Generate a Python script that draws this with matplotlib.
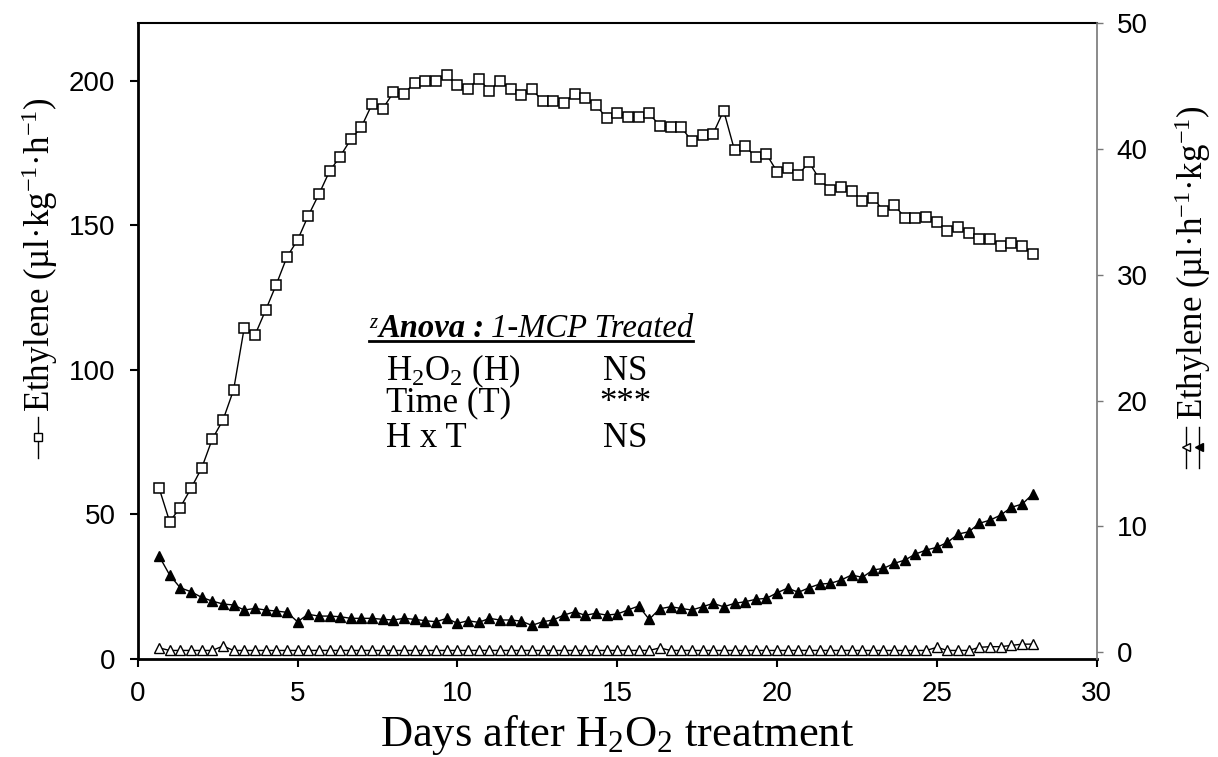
import numpy as np
import matplotlib
matplotlib.use("Agg")
import matplotlib.pyplot as plt
from matplotlib.lines import Line2D

plt.rcParams['font.family'] = ['Liberation Sans', 'DejaVu Sans']
plt.rcParams['mathtext.fontset'] = 'custom'
plt.rcParams['mathtext.rm'] = 'Liberation Serif'
plt.rcParams['mathtext.it'] = 'Liberation Serif:italic'
plt.rcParams['mathtext.bf'] = 'Liberation Serif:bold'

# sampled every 8 h, from day 0.67 to day 28
days = np.round(np.arange(2, 85) / 3, 2)

# left axis (square markers)
ethylene_sq = [
    59.1, 47.5, 52.4, 59.1, 66.0, 76.0, 82.7, 93.1, 114.4, 112.1,
    120.6, 129.4, 139.1, 144.9, 153.2, 160.8, 168.7, 173.8, 179.8, 184.1,
    191.9, 190.4, 196.0, 195.6, 199.3, 200.1, 200.0, 202.0, 198.5, 197.1,
    200.8, 196.5, 200.0, 197.1, 195.2, 197.0, 193.1, 193.1, 192.4, 195.6,
    194.2, 191.7, 187.1, 188.7, 187.5, 187.5, 188.7, 184.5, 184.1, 184.0,
    179.2, 181.1, 181.7, 189.7, 176.0, 177.6, 173.5, 174.6, 168.6, 169.8,
    167.5, 171.9, 165.9, 162.4, 163.1, 161.9, 158.5, 159.6, 155.0, 157.0,
    152.7, 152.5, 153.0, 151.0, 148.1, 149.5, 147.4, 145.2, 145.4, 143.0,
    143.8, 142.8, 140.0,
]

# right axis (filled triangles)
ethylene_tri_filled = [
    7.65, 6.14, 5.13, 4.81, 4.37, 4.07, 3.84, 3.76, 3.36, 3.49,
    3.36, 3.28, 3.18, 2.43, 3.02, 2.88, 2.88, 2.83, 2.70, 2.70,
    2.70, 2.62, 2.57, 2.70, 2.62, 2.51, 2.43, 2.70, 2.30, 2.51,
    2.38, 2.70, 2.57, 2.57, 2.48, 2.14, 2.43, 2.57, 2.96, 3.22,
    2.94, 3.10, 2.96, 3.04, 3.36, 3.68, 2.62, 3.46, 3.62, 3.49,
    3.36, 3.62, 3.89, 3.62, 3.89, 4.02, 4.21, 4.29, 4.73, 5.10,
    4.77, 5.13, 5.42, 5.48, 5.74, 6.14, 5.96, 6.54, 6.67, 7.07,
    7.33, 7.81, 8.13, 8.34, 8.74, 9.40, 9.58, 10.25, 10.51, 10.91,
    11.52, 11.78, 12.57,
]

# right axis (open triangles)
ethylene_tri_open = [
    0.35, 0.15, 0.15, 0.15, 0.15, 0.15, 0.50, 0.15, 0.15, 0.15,
    0.15, 0.15, 0.15, 0.15, 0.15, 0.15, 0.15, 0.15, 0.15, 0.15,
    0.15, 0.15, 0.15, 0.15, 0.15, 0.15, 0.15, 0.15, 0.15, 0.15,
    0.15, 0.15, 0.15, 0.15, 0.15, 0.15, 0.15, 0.15, 0.15, 0.15,
    0.15, 0.15, 0.15, 0.15, 0.15, 0.15, 0.15, 0.35, 0.15, 0.15,
    0.15, 0.15, 0.15, 0.15, 0.15, 0.15, 0.15, 0.15, 0.15, 0.15,
    0.15, 0.15, 0.15, 0.15, 0.15, 0.15, 0.15, 0.15, 0.15, 0.15,
    0.15, 0.15, 0.15, 0.40, 0.15, 0.15, 0.15, 0.40, 0.45, 0.45,
    0.55, 0.65, 0.65,
]

anova_rows = ['H$_2$O$_2$ (H)', 'Time (T)', 'H x T']
anova_sig = ['NS', '***', 'NS']

W, H = 1218, 757


def fx(px):
    return px / W


def fy(py):
    return 1 - py / H


fig = plt.figure(figsize=(12.18, 7.57), dpi=100)
ax = fig.add_axes([fx(137.7), fy(659), fx(1096.7) - fx(137.7), fy(23) - fy(659)])
ax2 = ax.twinx()

ax.plot(days, ethylene_sq, color='black', lw=1.0, marker='s', ms=7,
        mfc='white', mec='black', mew=1.1, zorder=3)
ax2.plot(days, ethylene_tri_open, color='black', lw=1.0, marker='^', ms=7.5,
         mfc='white', mec='black', mew=1.0)
ax2.plot(days, ethylene_tri_filled, color='black', lw=1.0, marker='^', ms=7.5,
         mfc='black', mec='black', mew=1.0)

ax.set_xlim(0, 30)
ax.set_ylim(0, 220)
ax2.set_ylim(-0.53, 50)
ax.set_xticks(range(0, 31, 5))
ax.set_yticks(range(0, 201, 50))
ax2.set_yticks(range(0, 51, 10))

ax.tick_params(axis='x', direction='out', length=6, width=1.5, labelsize=20, pad=9.5)
ax.tick_params(axis='y', direction='out', length=6, width=1.5, labelsize=20, pad=10)
ax2.tick_params(axis='y', direction='out', length=4.5, width=1.0, color='#777777',
                labelsize=20, pad=10)

ax.spines['left'].set_linewidth(2)
ax.spines['bottom'].set_linewidth(2)
ax.spines['top'].set_linewidth(1.5)
for s in ['left', 'bottom', 'top']:
    ax2.spines[s].set_visible(False)
ax.spines['right'].set_visible(False)
ax2.spines['right'].set_color('#777777')
ax2.spines['right'].set_linewidth(1.2)

serif = 'Liberation Serif'

# axis labels
fig.text(fx(617), fy(746), 'Days after H$_2$O$_2$ treatment', family=serif,
         size=32, ha='center', va='baseline')
fig.text(fx(40), fy(412), 'Ethylene (µl·kg$^{-1}$·h$^{-1}$)', family=serif,
         size=25, rotation=90, ha='center', va='bottom')
fig.text(fx(1193), fy(420), 'Ethylene (µl·h$^{-1}$·kg$^{-1}$)', family=serif,
         size=25, rotation=90, ha='center', va='bottom')

# legend keys in front of the axis labels
fig.add_artist(Line2D([fx(37.7)] * 3, [fy(417), fy(437), fy(458)], color='black',
                      lw=1.0, marker='s', ms=5.5, mfc='white', mec='black',
                      markevery=[1], transform=fig.transFigure))
fig.add_artist(Line2D([fx(1186)] * 3, [fy(427), fy(447), fy(468)], color='black',
                      lw=1.0, marker='<', ms=6, mfc='white', mec='black',
                      markevery=[1], transform=fig.transFigure))
fig.add_artist(Line2D([fx(1199)] * 3, [fy(427), fy(447), fy(468)], color='black',
                      lw=1.0, marker='<', ms=6, mfc='black', mec='black',
                      markevery=[1], transform=fig.transFigure))

# ANOVA box
t_anova = fig.text(fx(379), fy(337), 'Anova :', family=serif, size=23.5,
                   weight='bold', style='italic', ha='left', va='baseline')
t_z = ax.annotate('z', xy=(0, 1), xycoords=t_anova, xytext=(-1, -1),
                  textcoords='offset points', family=serif, size=15,
                  style='italic', ha='right', va='top')
t_rest = ax.annotate('1-MCP Treated', xy=(1, 0), xycoords=t_anova, xytext=(4, 0),
                     textcoords='offset points', family=serif, size=23.5,
                     style='italic', ha='left', va='bottom')

row_base = [380, 411.7, 446.7]
for lab, sig, yb in zip(anova_rows, anova_sig, row_base):
    fig.text(fx(386), fy(yb), lab, family=serif, size=25, ha='left', va='baseline')
    fig.text(fx(625), fy(yb), sig, family=serif, size=25, ha='center', va='baseline')

fig.canvas.draw()
r = fig.canvas.get_renderer()
bz = t_z.get_window_extent(r)
br = t_rest.get_window_extent(r)
fig.add_artist(Line2D([bz.x0 / W, br.x1 / W], [fy(341), fy(341)], color='black',
                      lw=2, transform=fig.transFigure))

fig.savefig('out.png', dpi=100)
